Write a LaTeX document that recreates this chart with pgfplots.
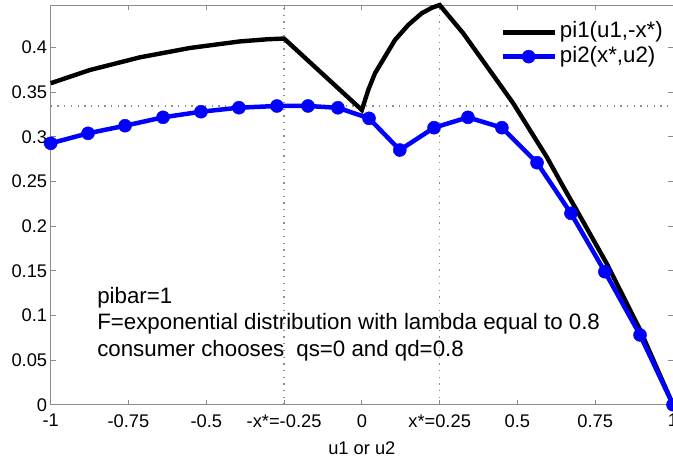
\documentclass[border=0pt]{standalone}
\usepackage{fontspec}
\setmainfont{Liberation Sans}
\usepackage{pgfplots}
\pgfplotsset{compat=1.18}
\definecolor{mblue}{RGB}{0,0,255}
\definecolor{axgray}{RGB}{140,140,140}
\begin{document}
\begin{tikzpicture}
\begin{axis}[
  scale only axis,
  width=622.3pt, height=399.7pt,
  xmin=-1, xmax=1, ymin=0, ymax=0.4476,
  clip=false,
  axis line style={draw=axgray, line width=0.8pt},
  tick style={draw=axgray, line width=0.8pt},
  major tick length=5pt,
  tick align=inside,
  xtick={-1,-0.75,-0.5,-0.25,0,0.25,0.5,0.75,1},
  xticklabels={-1,-0.75,-0.5,-x*=-0.25,0,x*=0.25,0.5,0.75,1},
  ytick={0,0.05,0.1,0.15,0.2,0.25,0.3,0.35,0.4},
  yticklabels={0,0.05,0.1,0.15,0.2,0.25,0.3,0.35,0.4},
  ticklabel style={font=\fontsize{18.3}{22}\selectfont, text=black},
  xticklabel style={yshift=-6pt},
  xlabel={u1 or u2},
  xlabel style={font=\fontsize{18.3}{22}\selectfont, at={(axis description cs:0.5,0)}, anchor=base, yshift=-49.5pt},
  legend style={draw=none, fill=none, at={(1,1)}, anchor=north east, xshift=-9pt, yshift=-15pt,
    font=\fontsize{22.3}{26}\selectfont, inner sep=0pt, row sep=0pt, column sep=2pt,
    nodes={inner sep=1pt, text height=16.7pt, text depth=5.6pt}},
  legend cell align=left,
  legend image code/.code={\draw[#1, mark repeat=2, mark phase=2] plot coordinates {(0pt,0pt) (26pt,0pt) (52pt,0pt)};},
]
\addplot[forget plot, axgray, line width=1.2pt, dash pattern=on 1.3pt off 5.4pt] coordinates {(-0.25,0) (-0.25,0.4476)};
\addplot[forget plot, axgray, line width=1.2pt, dash pattern=on 1.3pt off 5.4pt] coordinates {(0.25,0) (0.25,0.4476)};
\addplot[forget plot, axgray, line width=1.2pt, dash pattern=on 1.3pt off 5.4pt] coordinates {(-1,0.3345) (1,0.3345)};

\addplot[black, line width=4.4pt, no markers] coordinates {
(-1,0.360) (-0.874,0.3748) (-0.713,0.3890) (-0.552,0.3995) (-0.392,0.4068) (-0.30,0.4093) (-0.25,0.4100)
(0,0.3300) (0.0103,0.3412) (0.0206,0.3524) (0.0421,0.3711) (0.0742,0.3897) (0.1064,0.4084) (0.1491,0.4252) (0.1922,0.4383) (0.2250,0.4445) (0.25,0.4476)
(0.3258,0.4159) (0.3795,0.3897) (0.4332,0.3636) (0.4865,0.3375) (0.540,0.3076) (0.5938,0.2777) (0.6472,0.2441) (0.690,0.2180)
(0.7866,0.1583) (0.894,0.084) (1,0)
};
\addlegendentry{pi1(u1,-x*)}

\addplot[mblue, line width=4.5pt, mark=*, mark size=6.5pt, mark options={solid, fill=mblue, draw=mblue, line width=0.5pt}] coordinates {
(-1,0.2927) (-0.880,0.3039) (-0.761,0.3124) (-0.639,0.3218) (-0.517,0.3281) (-0.395,0.3326) (-0.273,0.3345)
(-0.173,0.3345) (-0.077,0.3325) (0.023,0.3207) (0.122,0.2852) (0.232,0.3102) (0.341,0.3218) (0.450,0.3102)
(0.563,0.2710) (0.672,0.2143) (0.781,0.1489) (0.894,0.0781) (1,0)
};
\addlegendentry{pi2(x*,u2)}

\node[anchor=base west, inner sep=0pt, font=\fontsize{22.3}{26}\selectfont] at (axis cs:-0.851,0.1135) {pibar=1};
\node[anchor=base west, inner sep=0pt, font=\fontsize{22.3}{26}\selectfont] at (axis cs:-0.851,0.0837) {F=exponential distribution with lambda equal to 0.8};
\node[anchor=base west, inner sep=0pt, font=\fontsize{22.3}{26}\selectfont] at (axis cs:-0.851,0.0545) {consumer chooses\hspace{12pt}qs=0 and qd=0.8};
\end{axis}
\pgfresetboundingbox
\path[use as bounding box] ([xshift=-50.7pt,yshift=-55.3pt]current axis.south west) rectangle ([yshift=5pt]current axis.north east);
\end{tikzpicture}
\end{document}
